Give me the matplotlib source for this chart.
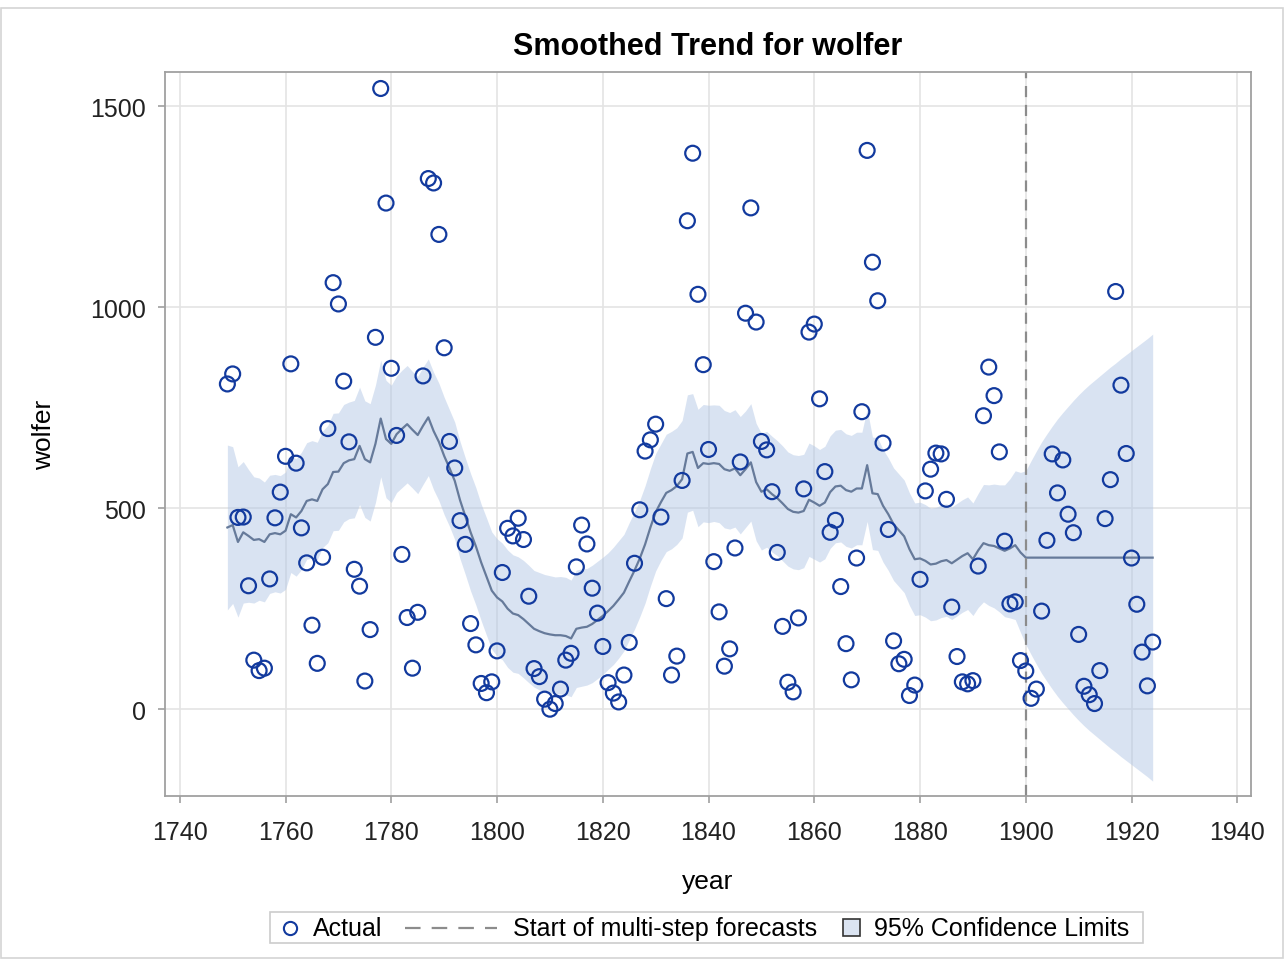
import matplotlib
matplotlib.use("Agg")
import matplotlib.pyplot as plt
from matplotlib.lines import Line2D
from matplotlib.patches import Rectangle
import numpy as np

plt.rcParams['font.family'] = ['Liberation Sans', 'DejaVu Sans']

# annual wolfer series, 1749-1924
years = np.arange(1749, 1925)
actual = [809,
          834, 477, 478, 307, 122, 96, 102, 324, 476, 540,
          629, 859, 612, 451, 364, 209, 114, 378, 698, 1061,
          1008, 816, 665, 348, 306, 70, 198, 925, 1544, 1259,
          848, 681, 385, 228, 102, 241, 829, 1320, 1309, 1181,
          899, 666, 600, 469, 410, 213, 160, 64, 41, 68,
          145, 340, 450, 431, 475, 422, 281, 101, 81, 25,
          0, 14, 50, 122, 139, 354, 458, 411, 301, 239,
          156, 66, 40, 18, 85, 166, 363, 496, 642, 670,
          709, 478, 275, 85, 132, 569, 1215, 1383, 1032, 857,
          646, 367, 242, 107, 150, 401, 615, 985, 1247, 963,
          666, 645, 541, 390, 206, 67, 43, 227, 548, 938,
          958, 772, 591, 440, 470, 305, 163, 73, 376, 740,
          1390, 1112, 1016, 662, 447, 170, 113, 124, 34, 60,
          323, 543, 597, 637, 635, 522, 254, 131, 68, 63,
          71, 356, 730, 851, 780, 640, 418, 262, 267, 121,
          95, 27, 50, 244, 420, 635, 538, 620, 485, 439,
          186, 57, 36, 14, 96, 474, 571, 1039, 806, 636,
          376, 261, 142, 58, 167]

# smoothed trend (flat forecast after 1900)
trend = [452,
         458, 416, 440, 431, 421, 423, 416, 435, 438, 435,
         444, 485, 477, 493, 518, 522, 518, 547, 560, 590,
         591, 612, 619, 622, 655, 622, 614, 660, 723, 672,
         660, 684, 697, 709, 695, 682, 705, 726, 692, 665,
         630, 600, 568, 520, 480, 440, 405, 365, 330, 295,
         278, 268, 250, 238, 234, 224, 212, 200, 194, 189,
         186, 184, 184, 182, 176, 200, 203, 205, 212, 222,
         232, 244, 257, 273, 290, 318, 345, 375, 410, 452,
         490, 515, 538, 545, 555, 572, 636, 640, 600, 612,
         610, 612, 610, 597, 593, 599, 582, 597, 614, 565,
         541, 547, 535, 525, 512, 498, 491, 489, 493, 521,
         514, 506, 514, 540, 554, 556, 545, 541, 549, 549,
         607, 537, 535, 506, 485, 460, 445, 430, 398, 373,
         375, 369, 360, 362, 368, 371, 363, 372, 381, 388,
         373, 395, 413, 408, 406, 400, 394, 400, 408, 390,
         377, 377, 377, 377, 377, 377, 377, 377, 377, 377,
         377, 377, 377, 377, 377, 377, 377, 377, 377, 377,
         377, 377, 377, 377, 377]

# half width of the 95% confidence band
half_width = [205,
              195, 187, 176, 165, 157, 152, 149, 147, 146, 146,
              146, 145, 146, 146, 145, 146, 146, 145, 146, 146,
              146, 146, 145, 146, 146, 145, 146, 146, 145, 146,
              146, 145, 146, 146, 145, 146, 146, 145, 146, 146,
              146, 145, 146, 146, 145, 146, 146, 145, 146, 146,
              146, 145, 146, 146, 145, 146, 146, 145, 146, 146,
              146, 145, 146, 146, 145, 146, 146, 145, 146, 146,
              146, 145, 146, 146, 145, 146, 146, 145, 146, 146,
              146, 145, 146, 146, 145, 146, 146, 145, 146, 146,
              146, 145, 146, 146, 145, 146, 146, 145, 146, 146,
              145, 144, 144, 143, 143, 142, 142, 142, 141, 141,
              141, 140, 140, 140, 140, 140, 140, 140, 140, 140,
              140, 140, 140, 140, 140, 140, 140, 140, 140, 140,
              140, 140, 140, 140, 140, 140, 140, 140, 140, 140,
              140, 142, 146, 150, 154, 158, 164, 173, 185, 199,
              216, 241, 265, 288, 308, 327, 345, 361, 376, 391,
              405, 418, 430, 441, 452, 463, 474, 484, 495, 505,
              515, 525, 535, 545, 556]

forecast_start = 1900

trend = np.array(trend)
half_width = np.array(half_width)
lower = trend - half_width
upper = trend + half_width

marker_col = '#123a9e'
trend_col = '#667a9a'
band_col = '#b4c8e6'
dash_col = '#8c8c8c'

fig = plt.figure(figsize=(12.86, 9.62), dpi=100)
ax = fig.add_axes([0.1283, 0.1715, 0.8445, 0.7526])

ax.fill_between(years, lower, upper, color=band_col, alpha=0.5, lw=0, zorder=1)
ax.plot(years, trend, color=trend_col, lw=1.6, zorder=2)
ax.scatter(years, actual, s=115, facecolors='none', edgecolors=marker_col,
           linewidths=1.6, zorder=3)
ax.axvline(forecast_start, color=dash_col, lw=1.6, ls=(0, (5, 3.5)), zorder=2.5)

ax.set_xlim(1737.2, 1942.6)
ax.set_ylim(-216, 1585)
ax.set_xticks(np.arange(1740, 1941, 20))
ax.set_yticks([0, 500, 1000, 1500])
ax.grid(True, color='#e4e4e4', lw=1.2)
ax.set_axisbelow(True)

for s in ax.spines.values():
    s.set_color('#a0a0a0')
    s.set_linewidth(1.3)
ax.tick_params(axis='both', direction='out', length=5, width=1.2, color='#a0a0a0',
               labelsize=18, labelcolor='#222222')
ax.tick_params(axis='x', pad=12)
ax.tick_params(axis='y', pad=9)

ax.set_xlabel('year', fontsize=19, labelpad=18)
ax.set_ylabel('wolfer', fontsize=19, labelpad=24)

fig.text(0.5505, 0.951, 'Smoothed Trend for wolfer', ha='center', va='center',
         fontsize=22, fontweight='bold')

# legend drawn by hand to match the compact layout
ly = 1 - 929 / 962
fig.patches.append(Rectangle((270 / 1286, 1 - 944 / 962), 873 / 1286, 31 / 962,
                             transform=fig.transFigure, fill=True, facecolor='white',
                             edgecolor='#cccccc', lw=1.2))
fig.lines.append(Line2D([290 / 1286], [ly], transform=fig.transFigure, ls='none',
                        marker='o', markersize=9.5, markerfacecolor='none',
                        markeredgecolor=marker_col, markeredgewidth=1.5))
fig.text(313 / 1286, ly, 'Actual', ha='left', va='center', fontsize=18)
fig.lines.append(Line2D([405 / 1286, 497 / 1286], [ly, ly], transform=fig.transFigure,
                        color=dash_col, lw=1.6, ls=(0, (7, 5))))
fig.text(513 / 1286, ly, 'Start of multi-step forecasts', ha='left', va='center',
         fontsize=18)
fig.patches.append(Rectangle((843 / 1286, 1 - 937 / 962), 17 / 1286, 17 / 962,
                             transform=fig.transFigure, facecolor='#dbe4f2',
                             edgecolor='#333333', lw=1.2))
fig.text(874 / 1286, ly, '95% Confidence Limits', ha='left', va='center', fontsize=18)

fig.patches.append(Rectangle((0.0008, 0.003), 0.997, 0.988, transform=fig.transFigure,
                             fill=False, edgecolor='#d4d4d4', lw=1.2))

fig.savefig('out.png', dpi=100)
